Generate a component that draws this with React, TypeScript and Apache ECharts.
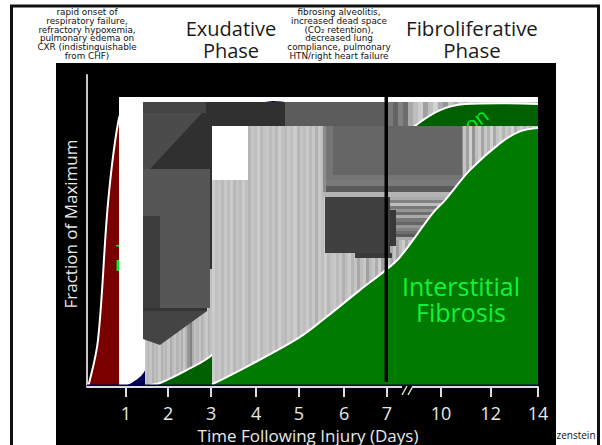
import React, { useEffect, useRef } from "react";
import * as echarts from "echarts";

const FONT = "'Open Sans', 'DejaVu Sans', sans-serif";
const NOTE_FONT = "'DejaVu Sans', sans-serif";

const tickPositions = [8.6, 18, 27.5, 37.5, 47, 57, 66.5, 78.5, 89.5, 100];
const tickLabels = ["1", "2", "3", "4", "5", "6", "7", "10", "12", "14"];

const redCurve = [[0, 0], [0.44, 0.005], [2.44, 0.158], [4.66, 0.639], [6.87, 0.919], [8.43, 0.982], [10.64, 1], [13, 0.98]];
const navyCurve = [[8.43, 0], [12.4, 0.046], [25, 0.45], [36.1, 0.96], [41.2, 1], [44.3, 0.993], [51.7, 0.8]];
const darkGreenCurve = [[13.97, 0], [16.2, 0.007], [22.2, 0.053], [27.7, 0.105], [47.2, 0.4], [58.3, 0.72], [72.7, 0.909], [78.3, 0.965], [83.8, 0.986], [91.6, 0.989], [100, 0.986]];
const greenCurve = [[27.7, 0.002], [36.1, 0.07], [47.2, 0.168], [52.8, 0.235], [60.5, 0.333], [66.3, 0.404], [69.4, 0.449], [76.7, 0.604], [79.4, 0.649], [84.9, 0.754], [91.6, 0.849], [96, 0.89], [100, 0.902]];

const leftNote = ["rapid onset of", "respiratory failure,", "refractory hypoxemia,", "pulmonary edema on", "CXR (indistinguishable", "from CHF)"];
const rightNote = ["fibrosing alveolitis,", "increased dead space", "(CO₂ retention),", "decreased lung", "compliance, pulmonary", "HTN/right heart failure"];

const lowerStripes = [198, 186, 196, 178, 192, 184, 200, 176, 190, 182, 198, 172, 188, 196, 180, 192, 176, 198, 184, 150, 130, 176, 192, 184, 198, 178, 190, 200, 182, 194];
const mainStripes = [
  204, 192, 198, 186, 200, 190, 204, 184, 196, 188, 202, 192, 182, 198, 190, 204, 186, 196, 200, 188,
  198, 184, 204, 192, 186, 200, 190, 204, 182, 196, 190, 202, 186, 198, 178, 200, 190, 204, 184, 194,
  200, 186, 198, 176, 192, 204, 182, 196, 168, 190, 200, 160, 186, 198, 172, 204, 160, 190, 200, 170,
  196, 158, 188, 204, 166, 192, 178, 204, 158, 196, 170, 206, 152, 190, 176, 200, 164, 188, 130, 200,
  170, 210, 140, 195, 160, 208, 150, 190, 205, 165, 198, 180, 210, 170, 195, 205, 180, 200, 190, 210,
  175, 195, 205, 185, 200, 190, 205, 195,
];
const upperStripes = [120, 100, 130, 110, 170, 190, 205, 160, 190, 210, 170, 150, 195, 175, 205, 185, 200, 175, 205, 190, 210, 180, 200, 215, 190, 205, 195, 210, 200, 190];
const bandStripes = [170, 130, 190, 120, 150, 110, 170, 120, 100, 150, 130, 110, 90, 170];

function hStops(greys: number[], vertical = false) {
  const colorStops: { offset: number; color: string }[] = [];
  greys.forEach((g, i) => {
    const color = `rgb(${g},${g},${g})`;
    colorStops.push({ offset: i / greys.length, color });
    colorStops.push({ offset: (i + 1) / greys.length, color });
  });
  return { type: "linear", x: 0, y: 0, x2: vertical ? 0 : 1, y2: vertical ? 1 : 0, colorStops };
}

function rect(x: number, y: number, width: number, height: number, fill: any, z: number) {
  return { type: "rect", shape: { x, y, width, height }, style: { fill }, z, silent: true };
}
function poly(points: number[][], fill: string, z: number) {
  return { type: "polygon", shape: { points }, style: { fill }, z, silent: true };
}
function label(text: string, x: number, y: number, size: number, fill: string, z: number, lineHeight?: number, rotation?: number, family = FONT) {
  return {
    type: "text", x, y, z, silent: true, rotation,
    style: { text, fill, font: `${size}px ${family}`, textAlign: "center", textVerticalAlign: "middle", lineHeight: lineHeight ?? size * 1.2 },
  };
}

function curveSeries(name: string, data: number[][], fill: string, z: number) {
  return {
    name, type: "line", data, z, smooth: 0.35, symbol: "none", clip: true,
    lineStyle: { color: "#ffffff", width: 2 },
    areaStyle: { color: fill, opacity: 1 },
  };
}

export default function App() {
  const ref = useRef<HTMLDivElement>(null);
  useEffect(() => {
    const chart = echarts.init(ref.current!, undefined, { renderer: "svg" });
    const option: any = {
      animation: false,
      backgroundColor: "#ffffff",
      grid: { left: 87, top: 75, width: 451, height: 310, outerBoundsMode: "none" },
      xAxis: {
        type: "value", min: 0, max: 100, offset: 2, z: 9,
        name: "Time Following Injury (Days)",
        nameLocation: "middle", nameGap: 36,
        nameTextStyle: { color: "#e8e8e8", fontSize: 17, fontFamily: FONT, padding: [0, 9, 0, 0] },
        splitLine: { show: false },
        axisLine: { onZero: false, lineStyle: { color: "#dddddd", width: 2 } },
        axisTick: { customValues: tickPositions, length: 10, lineStyle: { color: "#dddddd", width: 2 } },
        axisLabel: {
          customValues: tickPositions, margin: 17, color: "#e8e8e8", fontSize: 18, fontFamily: FONT,
          formatter: (v: number) => tickLabels[tickPositions.indexOf(v)] ?? "",
        },
      },
      yAxis: {
        type: "value", min: 0, max: 1.088, z: 1,
        name: "Fraction of Maximum",
        nameLocation: "middle", nameGap: 8, nameRotate: 90,
        nameTextStyle: { color: "#e8e8e8", fontSize: 17, fontFamily: FONT, padding: [0, 0, 0, 12] },
        splitLine: { show: false }, axisTick: { show: false }, axisLabel: { show: false },
        axisLine: { show: true, onZero: false, lineStyle: { color: "#c8c8c8", width: 2 } },
      },
      series: [
        curveSeries("Red", redCurve, "#7a0000", 2),
        curveSeries("Navy", navyCurve, "#000050", 4),
        curveSeries("Dark green", darkGreenCurve, "#005f00", 6),
        curveSeries("Green", greenCurve, "#007a00", 8),
      ],
      graphic: {
        elements: [
          { type: "rect", shape: { x: 11.5, y: 6, width: 587, height: 445 }, style: { fill: "#fff", stroke: "#111", lineWidth: 3 }, z: -3, silent: true },
          rect(56, 63, 500, 382, "#000000", -2),
          rect(116, 245, 3, 1.5, "#00ee22", 2.5),
          rect(116.5, 260, 2.5, 11, "#00ee22", 2.5),
          rect(119, 97, 419, 288, "#ffffff", 3),
          rect(145, 102, 67, 283, hStops(lowerStripes), 5),
          rect(388, 102, 150, 24, hStops(upperStripes), 5),
          label("on", 476, 120, 20, "#00ee22", 6.5, 20, 0.65),
          rect(143, 102, 69, 167, "#303030", 7),
          rect(143, 102, 63, 11, "#454545", 7),
          poly([[143, 113], [202, 113], [150, 169], [143, 169]], "#4b4b4b", 7),
          rect(143, 169, 67, 139, "#565656", 7),
          rect(143, 216, 17, 92, "#3d3d3d", 7),
          rect(143, 308, 64, 3, "#343434", 7),
          poly([[143, 311], [207, 311], [160, 345], [143, 339]], "#444444", 7),
          rect(212, 102, 73, 24, "#303030", 7),
          rect(285, 102, 103, 24, "#5c5c5c", 7),
          rect(212, 126, 326, 259, hStops(mainStripes), 7),
          rect(212, 126, 36, 54, "#ffffff", 7.1),
          rect(323, 126, 139, 71, "#8c8c8c", 7.1),
          rect(326, 126, 136, 54, "#757575", 7.2),
          rect(333, 126, 129, 49, "#666666", 7.3),
          rect(326, 180, 136, 6, "#7a7a7a", 7.2),
          rect(326, 186, 136, 6, "#5a5a5a", 7.2),
          rect(323, 192, 139, 5, "#b4b4b4", 7.2),
          rect(390, 197, 60, 43, hStops(bandStripes, true), 7.2),
          rect(325, 197, 65, 56, "#404040", 7.3),
          rect(355, 253, 37, 5, "#3a3a3a", 7.3),
          rect(390, 210, 6, 36, "#383838", 7.3),
          rect(87, 384.5, 451, 1.5, "#000050", 8.5),
          rect(384.5, 97, 3.5, 285, "#000000", 8.6),
          label("Interstitial\nFibrosis", 461, 299, 25, "#14f03c", 9, 26),
          rect(402, 385, 11, 4, "#000000", 10),
          { type: "line", shape: { x1: 402, y1: 395, x2: 407, y2: 386 }, style: { stroke: "#dddddd", lineWidth: 1.5 }, z: 11, silent: true },
          { type: "line", shape: { x1: 408, y1: 395, x2: 413, y2: 386 }, style: { stroke: "#dddddd", lineWidth: 1.5 }, z: 11, silent: true },
          label(leftNote.join("\n"), 87, 34, 8.8, "#111111", 1, 8.9, undefined, NOTE_FONT),
          label(rightNote.join("\n"), 339, 34, 8.8, "#111111", 1, 8.9, undefined, NOTE_FONT),
          label("Exudative\nPhase", 231, 39, 20, "#1a1a1a", 1, 22),
          label("Fibroliferative\nPhase", 472, 39, 20.5, "#1a1a1a", 1, 22),
          label("zenstein", 576, 435, 10, "#111111", 1),
        ],
      },
    };
    chart.setOption(option);
    return () => chart.dispose();
  }, []);
  return <div ref={ref} style={{ position: "fixed", left: 0, top: 0, width: 602, height: 445 }} />;
}
